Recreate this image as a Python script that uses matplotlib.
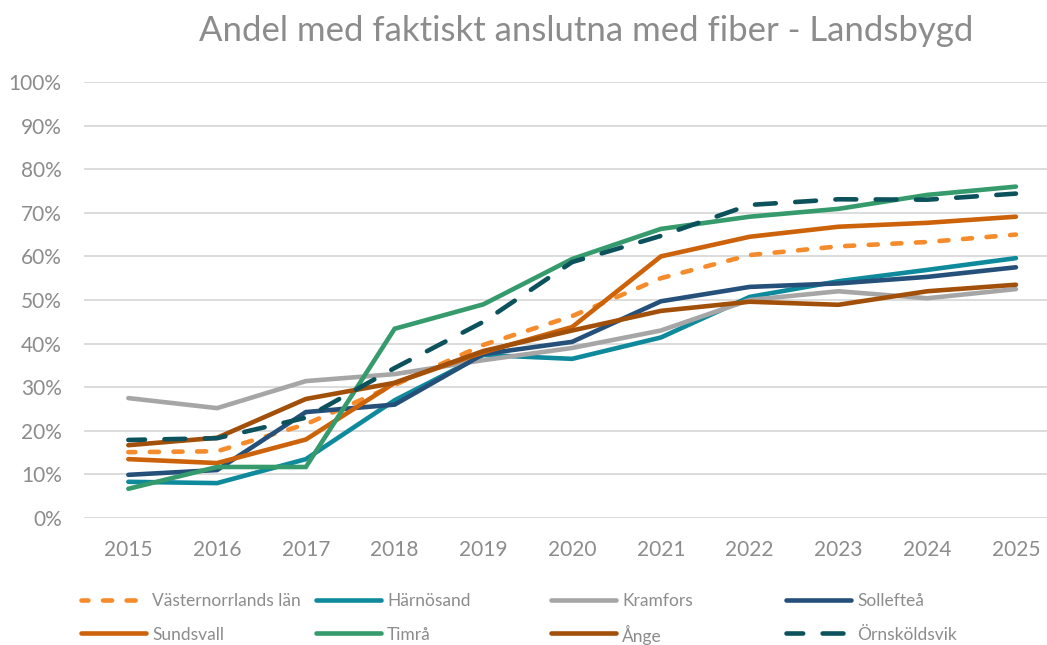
import matplotlib
matplotlib.use("Agg")
import matplotlib.pyplot as plt
from matplotlib.lines import Line2D

plt.rcParams['font.family'] = ['Lato', 'DejaVu Sans']
plt.rcParams['lines.scale_dashes'] = False

# data (share in %)
years = [2015, 2016, 2017, 2018, 2019, 2020, 2021, 2022, 2023, 2024, 2025]
vasternorrland = [15.1, 15.3, 21.5, 30.5, 39.7, 46.3, 55.0, 60.3, 62.3, 63.3, 65.0]
harnosand = [8.3, 8.0, 13.5, 27.0, 37.4, 36.5, 41.4, 50.7, 54.3, 56.9, 59.6]
kramfors = [27.5, 25.2, 31.4, 33.0, 36.2, 39.0, 43.0, 50.0, 52.0, 50.4, 52.5]
solleftea = [9.9, 11.0, 24.3, 26.0, 37.6, 40.4, 49.7, 53.0, 53.8, 55.3, 57.5]
sundsvall = [13.5, 12.6, 18.0, 31.0, 38.0, 43.8, 60.0, 64.5, 66.8, 67.7, 69.1]
timra = [6.7, 11.7, 11.7, 43.4, 49.0, 59.4, 66.3, 69.1, 70.9, 74.1, 76.0]
ange = [16.7, 18.4, 27.3, 31.0, 38.3, 43.0, 47.5, 49.6, 48.9, 52.0, 53.5]
ornskoldsvik = [17.9, 18.3, 23.0, 34.4, 45.0, 58.7, 64.7, 71.8, 73.1, 73.0, 74.4]

series = [
    ("Västernorrlands län", vasternorrland, "#F58B2B", (1.5, (6.5, 10.5))),
    ("Härnösand", harnosand, "#0E8A9C", None),
    ("Kramfors", kramfors, "#A6A6A6", None),
    ("Sollefteå", solleftea, "#24507A", None),
    ("Sundsvall", sundsvall, "#CC6209", None),
    ("Timrå", timra, "#359A6C", None),
    ("Ånge", ange, "#A14F09", None),
    ("Örnsköldsvik", ornskoldsvik, "#0B525C", (3, (15, 14))),
]

gray = "#8C8C8C"
lw = 3.3

fig = plt.figure(figsize=(10.47, 6.45), dpi=100)
ax = fig.add_axes([0.0802, 0.1969, 0.9198, 0.676])


def line_style(color, dash):
    kw = dict(color=color, lw=lw, solid_capstyle='round', dash_capstyle='round',
              solid_joinstyle='miter')
    if dash is not None:
        kw['linestyle'] = dash
    return kw


for name, vals, color, dash in series:
    ax.plot(years, vals, label=name, **line_style(color, dash))

ax.set_xlim(2014.5, 2025.35)
ax.set_ylim(0, 100)
ax.set_yticks(range(0, 101, 10))
ax.set_yticklabels([f"{v}%" for v in range(0, 101, 10)])
ax.set_xticks(years)
ax.set_xticklabels([str(y) for y in years])
ax.grid(axis='y', color="#D9D9D9", lw=1.3)
ax.set_axisbelow(True)
for s in ax.spines.values():
    s.set_visible(False)
ax.tick_params(length=0, labelsize=15, labelcolor=gray)
ax.tick_params(axis='y', pad=16)
ax.tick_params(axis='x', pad=16)

fig.text(0.56, 0.952, "Andel med faktiskt anslutna med fiber - Landsbygd",
         ha='center', va='center', fontsize=25, color=gray)

# legend drawn by hand: 4 equal-width columns, 2 rows, keys on one baseline
W, H = 1047, 645
col_x = [81, 316, 551, 786]   # px, left end of each key
row_y = [600, 633]            # px from top
key_len = 65
for i, (name, _, color, dash) in enumerate(series):
    x0 = col_x[i % 4] / W
    y = 1 - row_y[i // 4] / H
    fig.add_artist(Line2D([x0, x0 + key_len / W], [y, y],
                          transform=fig.transFigure, **line_style(color, dash)))
    fig.text(x0 + (key_len + 6) / W, y, name, ha='left', va='center_baseline',
             fontsize=12.5, color=gray)

fig.savefig("out.png", dpi=100)
